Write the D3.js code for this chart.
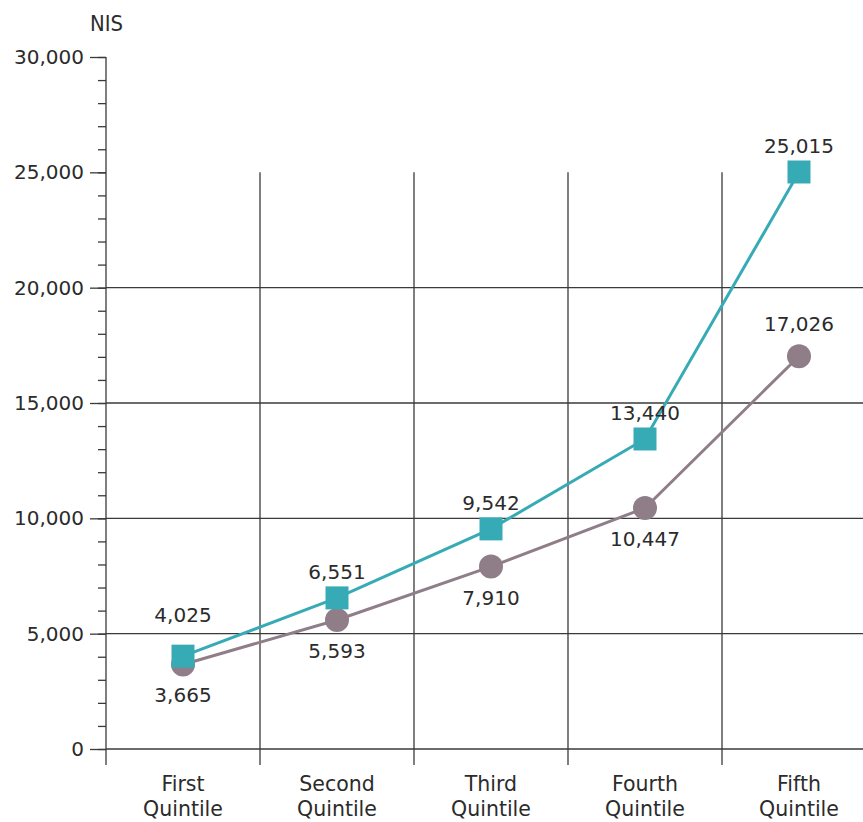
<!DOCTYPE html>
<html lang="en">
<head>
<meta charset="UTF-8" />
<title>Quintile income chart</title>
<style>
  body { margin: 0; background: #fff; }
  svg text { font-family: "DejaVu Sans", sans-serif; fill: #2b2b2b; }
</style>
</head>
<body>
<div id="stage"></div>
<script src="https://d3js.org/d3.v7.min.js"></script>
<script>
// categories and series
const quintiles = ['First Quintile', 'Second Quintile', 'Third Quintile', 'Fourth Quintile', 'Fifth Quintile'];
const tealValues = [4025, 6551, 9542, 13440, 25015];
const greyValues = [3665, 5593, 7910, 10447, 17026];
const yTicks = [0, 5000, 10000, 15000, 20000, 25000, 30000];

const W = 863, H = 822;
const svg = d3.select('#stage').append('svg').attr('width', W).attr('height', H);

const x = d3.scaleBand().domain(quintiles).range([106, 876]);
const y = d3.scaleLinear().domain([0, 30000]).range([749, 57]);
const fmt = d3.format(',');
const gridColor = '#3a3a3a';

// horizontal gridlines (not at 25,000 / 30,000)
svg.append('g').selectAll('line')
  .data(yTicks.filter(d => d <= 20000))
  .join('line')
  .attr('x1', 106).attr('x2', W)
  .attr('y1', d => y(d)).attr('y2', d => y(d))
  .attr('stroke', gridColor).attr('stroke-width', 1.3);

// vertical gridlines between categories
svg.append('g').selectAll('line')
  .data(quintiles.slice(1))
  .join('line')
  .attr('x1', d => x(d)).attr('x2', d => x(d))
  .attr('y1', y(25000)).attr('y2', 765)
  .attr('stroke', gridColor).attr('stroke-width', 1.3);

// y axis with major + minor ticks
const yAxis = svg.append('g').attr('transform', 'translate(106,0)');
yAxis.call(d3.axisLeft(y).tickValues(d3.range(0, 30001, 1000)).tickSize(8).tickFormat(''));
yAxis.call(g => g.select('.domain').remove());
yAxis.selectAll('.tick line').attr('stroke', gridColor).attr('stroke-width', 1.3);
const yMajor = svg.append('g').attr('transform', 'translate(106,0)')
  .call(d3.axisLeft(y).tickValues(yTicks).tickSize(16).tickPadding(6).tickFormat(fmt));
yMajor.select('.domain').remove();
yMajor.selectAll('.tick line').attr('stroke', gridColor).attr('stroke-width', 1.3);
yMajor.selectAll('.tick text').attr('font-size', 20).attr('fill', '#2b2b2b')
  .style('font-family', '"DejaVu Sans", sans-serif');
svg.append('line').attr('x1', 106).attr('x2', 106).attr('y1', y(30000)).attr('y2', 765)
  .attr('stroke', gridColor).attr('stroke-width', 1.3);

svg.append('text').attr('x', 90).attr('y', 31).attr('font-size', 21)
  .attr('textLength', 33).attr('lengthAdjust', 'spacingAndGlyphs').text('NIS');

// x labels
const xl = svg.append('g').selectAll('text').data(quintiles).join('text')
  .attr('x', d => x(d) + x.bandwidth() / 2)
  .attr('text-anchor', 'middle').attr('font-size', 20.5);
xl.append('tspan').attr('x', d => x(d) + x.bandwidth() / 2).attr('y', 791).text(d => d.split(' ')[0]);
xl.append('tspan').attr('x', d => x(d) + x.bandwidth() / 2).attr('y', 816).text(d => d.split(' ')[1]);

const cx = (d, i) => x(quintiles[i]) + x.bandwidth() / 2;
const line = d3.line().x(cx).y(d => y(d));

// grey series
svg.append('path').datum(greyValues).attr('d', line)
  .attr('fill', 'none').attr('stroke', '#8f7e88').attr('stroke-width', 3);
svg.append('g').selectAll('circle').data(greyValues).join('circle')
  .attr('cx', cx).attr('cy', d => y(d)).attr('r', 12).attr('fill', '#8f7e88');

// teal series
svg.append('path').datum(tealValues).attr('d', line)
  .attr('fill', 'none').attr('stroke', '#36abb6').attr('stroke-width', 3);
svg.append('g').selectAll('rect').data(tealValues).join('rect')
  .attr('x', (d, i) => cx(d, i) - 11.5).attr('y', d => y(d) - 11.5)
  .attr('width', 23).attr('height', 23).attr('fill', '#36abb6');

// value labels
svg.append('g').selectAll('text').data(tealValues).join('text')
  .attr('x', cx).attr('y', (d, i) => y(d) - (i === 0 ? 34 : 19))
  .attr('text-anchor', 'middle').attr('font-size', 20).text(fmt);
svg.append('g').selectAll('text').data(greyValues).join('text')
  .attr('x', cx).attr('y', (d, i) => i === 4 ? y(d) - 25 : y(d) + 38)
  .attr('text-anchor', 'middle').attr('font-size', 20).text(fmt);
</script>
</body>
</html>
